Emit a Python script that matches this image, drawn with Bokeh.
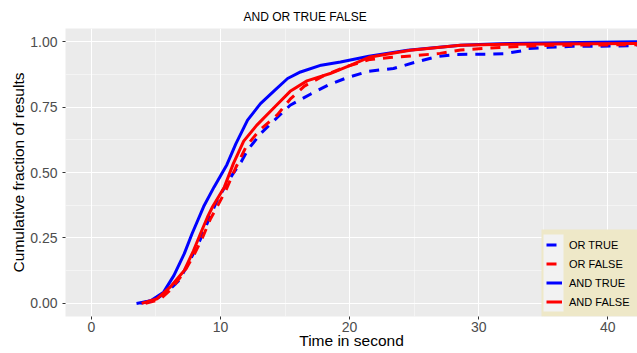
from bokeh.plotting import figure
from bokeh.models import Range1d, FixedTicker, Legend, LegendItem, NumeralTickFormatter
from bokeh.embed import file_html
from bokeh.resources import INLINE

# Cumulative fraction of results against response time, per query type
or_true_t = [3.8, 5.0, 6.0, 6.8, 7.6, 8.4, 9.1, 9.8, 10.9, 11.6, 12.1, 13.1, 14.4, 15.4,
             17.0, 18.3, 19.8, 21.5, 23.4, 25.0, 26.8, 28.3, 30.7, 32.0, 33.5, 33.8,
             35.4, 37.3, 40.7, 42.5]
or_true_f = [0.0, 0.015, 0.05, 0.088, 0.16, 0.24, 0.32, 0.40, 0.49, 0.54, 0.585, 0.648,
             0.71, 0.757, 0.80, 0.833, 0.862, 0.887, 0.897, 0.92, 0.943, 0.951, 0.952,
             0.954, 0.966, 0.973, 0.978, 0.982, 0.983, 0.985]

or_false_t = [4.2, 5.3, 6.2, 7.2, 8.0, 8.6, 9.2, 10.4, 11.2, 12.0, 13.0, 14.4, 15.4, 16.5,
              18.0, 19.8, 21.6, 23.3, 25.2, 27.0, 28.6, 30.4, 32.2, 35.6, 42.5]
or_false_f = [0.0, 0.015, 0.055, 0.12, 0.19, 0.25, 0.32, 0.43, 0.52, 0.60, 0.66, 0.72,
              0.78, 0.83, 0.87, 0.905, 0.932, 0.94, 0.947, 0.955, 0.968, 0.974, 0.979,
              0.986, 0.988]

and_true_t = [3.5, 4.6, 5.6, 6.4, 7.2, 7.8, 8.7, 9.5, 10.5, 11.2, 12.1, 13.1, 14.2, 15.2,
              16.2, 17.8, 19.3, 21.5, 24.5, 28.6, 31.7, 35.0, 42.5]
and_true_f = [0.0, 0.01, 0.043, 0.107, 0.19, 0.266, 0.37, 0.444, 0.53, 0.61, 0.70, 0.763,
              0.814, 0.859, 0.884, 0.91, 0.922, 0.944, 0.967, 0.986, 0.992, 0.995, 1.0]

and_false_t = [3.9, 5.1, 6.1, 7.2, 7.9, 8.45, 9.0, 9.4, 10.3, 11.0, 11.8, 12.8, 14.2, 15.4,
               16.7, 18.5, 20.1, 21.5, 24.7, 28.6, 32.0, 42.5]
and_false_f = [0.0, 0.018, 0.062, 0.126, 0.2, 0.266, 0.33, 0.37, 0.444, 0.534, 0.62, 0.68,
               0.75, 0.81, 0.85, 0.878, 0.91, 0.94, 0.967, 0.986, 0.99, 0.993]

series_labels = ["OR TRUE", "OR FALSE", "AND TRUE", "AND FALSE"]
x_ticks = [0, 10, 20, 30, 40]
y_ticks = [0.0, 0.25, 0.5, 0.75, 1.0]

FONT = "Liberation Sans"
W, H = 637, 353
LEFT, RIGHT, TOP, BOTTOM = 65, 0, 28, 37
X0, X1 = -2.0, 42.3
Y0, Y1 = -0.05, 1.05
FW = W - LEFT - RIGHT
FH = H - TOP - BOTTOM


def px_to_x(px):
    return X0 + (px - LEFT) / FW * (X1 - X0)


def py_to_y(py):
    return Y1 - (py - TOP) / FH * (Y1 - Y0)


p = figure(width=W, height=H, x_range=Range1d(X0, X1), y_range=Range1d(Y0, Y1),
           output_backend="svg", toolbar_location=None,
           min_border_left=LEFT, min_border_right=RIGHT,
           min_border_top=TOP, min_border_bottom=BOTTOM,
           background_fill_color="#EBEBEB", border_fill_color="white",
           outline_line_color=None)

# title
p.title.text = "AND OR TRUE FALSE"
p.title.text_font = FONT
p.title.text_font_size = "12px"
p.title.text_font_style = "normal"
p.title.text_color = "black"
p.title.align = "left"
p.title.offset = 178
p.title.standoff = 9

# axes
p.xaxis.ticker = FixedTicker(ticks=x_ticks, minor_ticks=[5, 15, 25, 35])
p.yaxis.ticker = FixedTicker(ticks=y_ticks, minor_ticks=[0.125, 0.375, 0.625, 0.875])
p.yaxis.formatter = NumeralTickFormatter(format="0.00")
p.xaxis.axis_label = "Time in second"
p.yaxis.axis_label = "Cumulative fraction of results"
for ax in (p.xaxis, p.yaxis):
    ax.axis_line_color = None
    ax.minor_tick_line_color = None
    ax.major_tick_in = 0
    ax.major_tick_out = 3
    ax.major_tick_line_color = "#333333"
    ax.major_label_text_font = FONT
    ax.major_label_text_font_size = "14px"
    ax.major_label_text_color = "#4D4D4D"
    ax.axis_label_text_font = FONT
    ax.axis_label_text_font_size = "15.5px"
    ax.axis_label_text_font_style = "normal"
    ax.axis_label_text_color = "black"
p.xaxis.major_label_standoff = 1
p.xaxis.axis_label_standoff = -3
p.yaxis.major_label_standoff = 4
p.yaxis.axis_label_standoff = 0

# grid
for g in (p.xgrid, p.ygrid):
    g.grid_line_color = "white"
    g.grid_line_width = 1.1
    g.minor_grid_line_color = "white"
    g.minor_grid_line_width = 0.55
    g.minor_grid_line_alpha = 0.8

# legend panel and key column
p.quad(left=[px_to_x(541)], right=[px_to_x(637)], top=[py_to_y(229)], bottom=[py_to_y(316)],
       fill_color="#EEE8C8", line_color=None)
p.quad(left=[px_to_x(543)], right=[px_to_x(563)], top=[py_to_y(234)], bottom=[py_to_y(311)],
       fill_color="#F2F2F2", line_color=None)

# curves
r_or_true = p.line(or_true_t, or_true_f, line_color="#0000FF", line_width=3, line_dash="10 8")
r_or_false = p.line(or_false_t, or_false_f, line_color="#FF0000", line_width=3, line_dash="10 8")
r_and_true = p.line(and_true_t, and_true_f, line_color="#0000FF", line_width=3)
r_and_false = p.line(and_false_t, and_false_f, line_color="#FF0000", line_width=3)

legend = Legend(
    items=[LegendItem(label=series_labels[0], renderers=[r_or_true]),
           LegendItem(label=series_labels[1], renderers=[r_or_false]),
           LegendItem(label=series_labels[2], renderers=[r_and_true]),
           LegendItem(label=series_labels[3], renderers=[r_and_false])],
    location=(481, 5), padding=0, margin=0, spacing=0,
    glyph_width=16, glyph_height=19, label_height=19, label_standoff=7,
    label_text_font=FONT, label_text_font_size="11px", label_text_color="black",
    background_fill_alpha=0, border_line_color=None)
p.add_layout(legend)

open("out.html", "w").write(file_html(p, INLINE))
